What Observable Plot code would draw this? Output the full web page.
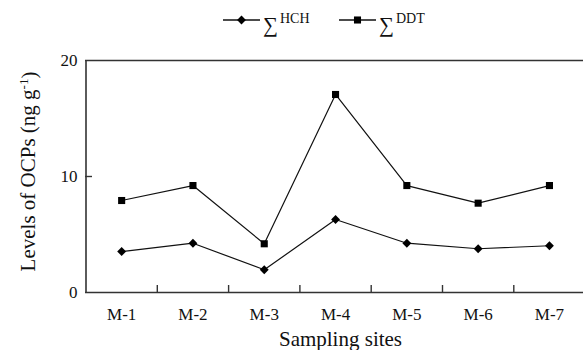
<!DOCTYPE html>
<html><head><meta charset="utf-8">
<script src="https://cdn.jsdelivr.net/npm/d3@7"></script>
<script src="https://cdn.jsdelivr.net/npm/@observablehq/plot@0.6"></script>
<style>
body{margin:0;background:#fff;font-family:"Liberation Serif",serif;}
#legend svg, #chart svg{display:block;}
</style>
</head><body>
<div id="legend"></div>
<div id="chart"></div>
<script>
const sites = ["M-1","M-2","M-3","M-4","M-5","M-6","M-7"];
const hch = [3.53, 4.25, 1.96, 6.29, 4.25, 3.77, 4.03];
const ddt = [7.93, 9.22, 4.20, 17.07, 9.22, 7.70, 9.22];
const seriesNames = ["HCH", "DDT"];
const yTicks = [0, 10, 20];
const yTitle = "Levels of OCPs (ng g";
const xTitle = "Sampling sites";
const FONT = "Liberation Serif";

const data = sites.flatMap((s, i) => [
  {i, site: s, series: "HCH", value: hch[i]},
  {i, site: s, series: "DDT", value: ddt[i]}
]);

// Legend
const lg = d3.select("#legend").append("svg").attr("width", 583).attr("height", 40)
  .style("font-family", FONT);
const legendItems = [
  {name: seriesNames[0], x: 223, symbol: d3.symbolDiamond2},
  {name: seriesNames[1], x: 339, symbol: d3.symbolSquare}
];
legendItems.forEach(it => {
  const g = lg.append("g").attr("transform", `translate(${it.x},20)`);
  g.append("line").attr("x1", 0).attr("x2", 37).attr("stroke", "#111").attr("stroke-width", 1.3);
  g.append("path").attr("d", d3.symbol(it.symbol, 50)()).attr("transform", "translate(18.5,0)").attr("fill", "#000");
  g.append("text").attr("x", 40).attr("y", 12).attr("font-size", 21).attr("fill", "#111").text("\u2211");
  g.append("text").attr("x", 57).attr("y", 3).attr("font-size", 14).attr("fill", "#111").text(it.name);
});

const chart = Plot.plot({
  width: 583, height: 310,
  marginTop: 20, marginBottom: 58, marginLeft: 85, marginRight: 0,
  style: {fontFamily: FONT, fontSize: "17px", color: "#111", background: "#fff"},
  x: {domain: [-0.5, sites.length - 0.5], range: [85.5, 584.6]},
  y: {domain: [0, 20]},
  symbol: {domain: seriesNames, range: ["diamond2", "square"]},
  marks: [
    Plot.ruleY([0, 20], {stroke: "#333", strokeWidth: 1.6}),
    Plot.ruleX([-0.5], {stroke: "#333", strokeWidth: 1.6}),
    Plot.axisY({ticks: yTicks, tickSize: 0, tickPadding: 8, label: null, fontSize: 17, fontFamily: FONT}),
    Plot.axisY({ticks: [10], tickSize: -7, tickFormat: () => "", label: null, stroke: "#333", strokeWidth: 1.4}),
    Plot.axisX({ticks: d3.range(sites.length), tickFormat: i => sites[i], tickSize: 0, tickPadding: 15, label: null, fontSize: 17, fontFamily: FONT}),
    Plot.axisX({ticks: d3.range(sites.length - 1).map(i => i + 0.5), tickSize: -7, tickFormat: () => "", label: null, stroke: "#333", strokeWidth: 1.4}),
    Plot.text([xTitle], {frameAnchor: "bottom", lineAnchor: "middle", textAnchor: "middle", dy: 47, dx: 6, fontSize: 21, fontFamily: FONT, fill: "#111"}),
    Plot.text([yTitle], {frameAnchor: "left", textAnchor: "middle", lineAnchor: "middle", rotate: -90, dx: -57, dy: -5, fontSize: 21, fontFamily: FONT, fill: "#111"}),
    Plot.line(data, {x: "i", y: "value", z: "series", stroke: "#111", strokeWidth: 1.2}),
    Plot.dot(data, {x: "i", y: "value", symbol: "series", r: 4, fill: "#000", stroke: "none"})
  ]
});
document.getElementById("chart").appendChild(chart);

// superscript in y title
d3.select(chart).selectAll("text").filter(function() { return this.textContent === yTitle; })
  .each(function() {
    const t = d3.select(this);
    t.text(yTitle);
    t.append("tspan").attr("font-size", 13).attr("dy", "-0.55em").text("-1");
    t.append("tspan").attr("font-size", 21).attr("dy", "0.4em").text(")");
  });
</script>
</body></html>
